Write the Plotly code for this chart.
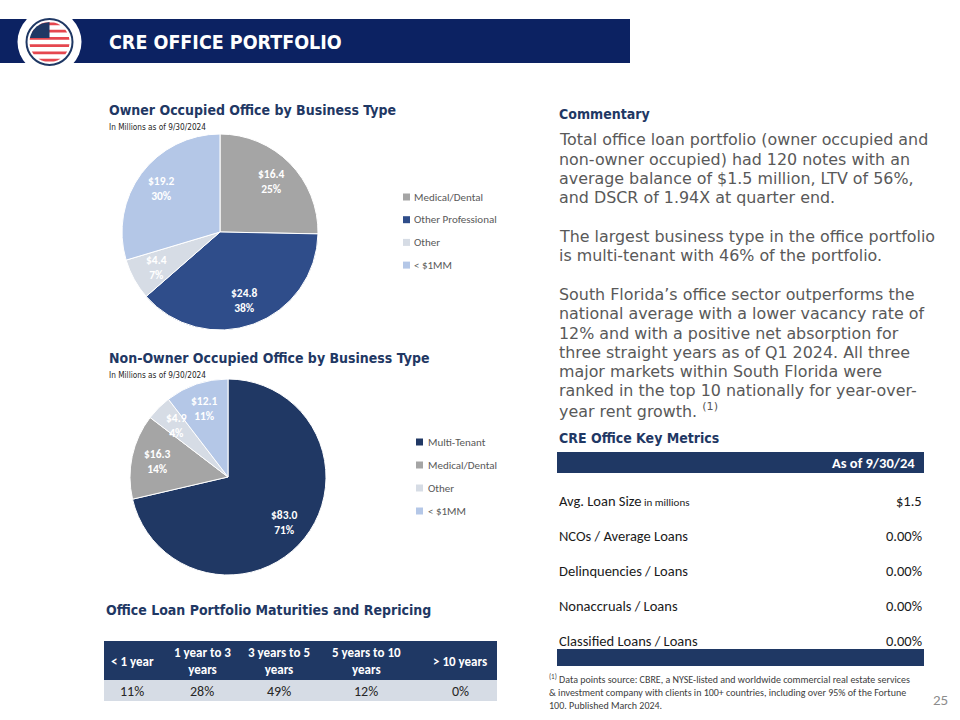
import numpy as np
import plotly.graph_objects as go

W, H = 960, 720

# ---------------- data ----------------
oo_labels = ["Medical/Dental", "Other Professional", "Other", "< $1MM"]
oo_values = [16.4, 24.8, 4.4, 19.2]
oo_pct = ["25%", "38%", "7%", "30%"]
oo_colors = ["#A5A5A5", "#2F4D8A", "#D6DCE5", "#B4C7E7"]

noo_labels = ["Multi-Tenant", "Medical/Dental", "Other", "< $1MM"]
noo_values = [83.0, 16.3, 4.9, 12.1]
noo_pct = ["71%", "14%", "4%", "11%"]
noo_colors = ["#203864", "#A5A5A5", "#D6DCE5", "#B4C7E7"]

commentary_lines = [
    "Total office loan portfolio (owner occupied and",
    "non-owner occupied) had 120 notes with an",
    "average balance of $1.5 million, LTV of 56%,",
    "and DSCR of 1.94X at quarter end.",
    "",
    "The largest business type in the office portfolio",
    "is multi-tenant with 46% of the portfolio.",
    "",
    "South Florida’s office sector outperforms the",
    "national average with a lower vacancy rate of",
    "12% and with a positive net absorption for",
    "three straight years as of Q1 2024. All three",
    "major markets within South Florida were",
    "ranked in the top 10 nationally for year-over-",
    "year rent growth. <sup>(1)</sup>",
]

metric_labels = ["Avg. Loan Size<span style='font-size:11px'> in millions</span>",
                 "NCOs / Average Loans", "Delinquencies / Loans",
                 "Nonaccruals / Loans", "Classified Loans / Loans"]
metric_values = ["$1.5", "0.00%", "0.00%", "0.00%", "0.00%"]
metric_header = "As of 9/30/24"

maturity_buckets = ["< 1 year", "1 year to 3<br>years", "3 years to 5<br>years",
                    "5 years to 10<br>years", "> 10 years"]
maturity_shares = ["11%", "28%", "49%", "12%", "0%"]

footnote_lines = [
    "<sup>(1)</sup> Data points source: CBRE, a NYSE-listed and worldwide commercial real estate services",
    "& investment company with clients in 100+ countries, including over 95% of the Fortune",
    "100. Published March 2024.",
]

# ---------------- styles ----------------
NAVY = "#1F3864"
BAR = "#0C2262"
NARROW = "Liberation Sans Narrow, Arial Narrow, DejaVu Sans Condensed, sans-serif"
CAL = "Carlito, Calibri, Lato, sans-serif"
VER = "Verdana, DejaVu Sans, sans-serif"


def px(x):
    return x / W


def py(y):
    return 1 - y / H


shapes = []
annots = []


def rect(x0, y0, x1, y1, color):
    shapes.append(dict(type="rect", xref="paper", yref="paper", x0=px(x0), x1=px(x1),
                       y0=py(y1), y1=py(y0), fillcolor=color, line=dict(width=0), layer="below"))


def text(x, y, s, size, color, family, xanchor="left", weight="normal", yanchor="middle"):
    annots.append(dict(xref="paper", yref="paper", x=px(x), y=py(y), text=s, showarrow=False,
                       xanchor=xanchor, yanchor=yanchor, align=xanchor if xanchor != "center" else "center",
                       font=dict(size=size, color=color, family=family, weight=weight),
                       borderpad=0))


def poly(points, color):
    d = "M " + " L ".join(f"{px(a):.5f},{py(b):.5f}" for a, b in points) + " Z"
    shapes.append(dict(type="path", xref="paper", yref="paper", path=d, fillcolor=color,
                       line=dict(width=0), layer="above"))


# ---------------- header ----------------
rect(0, 19, 630, 63, BAR)
cx, cy = 49.5, 42
shapes.append(dict(type="circle", xref="paper", yref="paper", x0=px(cx - 32), x1=px(cx + 32),
                   y0=py(cy + 32), y1=py(cy - 32), fillcolor="white", line=dict(width=0)))
shapes.append(dict(type="circle", xref="paper", yref="paper", x0=px(cx - 23), x1=px(cx + 23),
                   y0=py(cy + 23), y1=py(cy - 23), fillcolor="white", line=dict(width=2, color=NAVY)))
r = 20.0
edges = np.linspace(cy - r, cy + r, 12)
for i in range(len(edges) - 1):
    if i % 2 == 0:
        ya, yb = edges[i] + 0.4, edges[i + 1] - 0.4
        ys = np.linspace(ya, yb, 8)
        left = [(cx - np.sqrt(max(r * r - (yy - cy) ** 2, 0)), yy) for yy in ys]
        right = [(cx + np.sqrt(max(r * r - (yy - cy) ** 2, 0)), yy) for yy in ys[::-1]]
        poly(left + right, "#E5474F")
ys = np.linspace(cy - 4, cy - r, 12)
pts = [(cx - np.sqrt(max(r * r - (yy - cy) ** 2, 0)), yy) for yy in ys]
pts += [(cx, cy - r), (cx, cy - 4)]
poly(pts, NAVY)
text(108, 42, "CRE OFFICE PORTFOLIO", 19.5, "white", NARROW, weight="bold")

# ---------------- pies ----------------
fig = go.Figure()


def add_pie(labels, values, pct, colors, pcx, pcy, rr):
    fig.add_trace(go.Pie(
        labels=labels, values=values, sort=False, direction="clockwise",
        rotation=0, marker=dict(colors=colors, line=dict(color="white", width=1)),
        textinfo="none",
        domain=dict(x=[px(pcx - rr), px(pcx + rr)], y=[py(pcy + rr), py(pcy - rr)]),
        showlegend=False, hoverinfo="label+value"))
    total = float(sum(values))
    cum = np.cumsum([0.0] + list(values))
    for k, (v, p) in enumerate(zip(values, pct)):
        ang = np.deg2rad((cum[k] + v / 2) / total * 360.0)
        lr = 0.74 * rr
        tx, ty = pcx + lr * np.sin(ang), pcy - lr * np.cos(ang)
        text(tx, ty, f"${v:.1f}<br>{p}", 11.5, "white", CAL, xanchor="center", weight="bold")


add_pie(oo_labels, oo_values, oo_pct, oo_colors, 220, 232, 98)
add_pie(noo_labels, noo_values, noo_pct, noo_colors, 228, 477, 98)

text(108, 110, "Owner Occupied Office by Business Type", 14, NAVY, NARROW, weight="bold")
text(108, 127, "In Millions as of 9/30/2024", 8.2, "#262626", NARROW)
text(108, 358, "Non-Owner Occupied Office by Business Type", 14, NAVY, NARROW, weight="bold")
text(108, 375, "In Millions as of 9/30/2024", 8.2, "#262626", NARROW)

for i, (lab, col) in enumerate(zip(oo_labels, oo_colors)):
    y = 197 + i * 22.7
    rect(403, y - 3.5, 410, y + 3.5, col)
    text(413, y, lab, 11, "#595959", CAL)
for i, (lab, col) in enumerate(zip(noo_labels, noo_colors)):
    y = 442 + i * 23
    rect(416, y - 3.5, 423, y + 3.5, col)
    text(427, y, lab, 11, "#595959", CAL)

# ---------------- commentary ----------------
text(558, 114, "Commentary", 14, NAVY, NARROW, weight="bold")
ly = 140
for line in commentary_lines:
    if line:
        text(558, ly, line, 15.9, "#595959", VER)
    ly += 19.3

# ---------------- key metrics ----------------
text(558, 438, "CRE Office Key Metrics", 14, NAVY, NARROW, weight="bold")
rect(557, 452, 924, 473, NAVY)
text(916, 463, metric_header, 14.5, "white", CAL, xanchor="right", weight="bold")
for i, (lab, val) in enumerate(zip(metric_labels, metric_values)):
    y = 501 + i * 35
    text(558, y, lab, 14.5, "#1A1A1A", CAL)
    text(923, y, val, 14.5, "#1A1A1A", CAL, xanchor="right")
rect(557, 649, 924, 666, NAVY)

text(548, 692, "<br>".join(footnote_lines), 10, "#404040", CAL)
text(949, 700, "25", 15, "#8C8C8C", CAL, xanchor="right")

# ---------------- maturities ----------------
text(105, 610, "Office Loan Portfolio Maturities and Repricing", 14, NAVY, NARROW, weight="bold")
rect(104, 641, 497, 680, NAVY)
rect(104, 680, 497, 701, "#D6DCE5")
col_centers = [132, 202, 279, 366, 460]
for c, b, s in zip(col_centers, maturity_buckets, maturity_shares):
    text(c, 661, b, 13, "white", CAL, xanchor="center", weight="bold")
    text(c, 691, s, 14, "#262626", CAL, xanchor="center")

fig.update_layout(
    width=W, height=H, margin=dict(l=0, r=0, t=0, b=0), autosize=False,
    paper_bgcolor="white", plot_bgcolor="white",
    shapes=shapes, annotations=annots, showlegend=False,
)

fig.write_html("out.html", config={"displayModeBar": False},
               post_script="document.body.style.margin='0';")
